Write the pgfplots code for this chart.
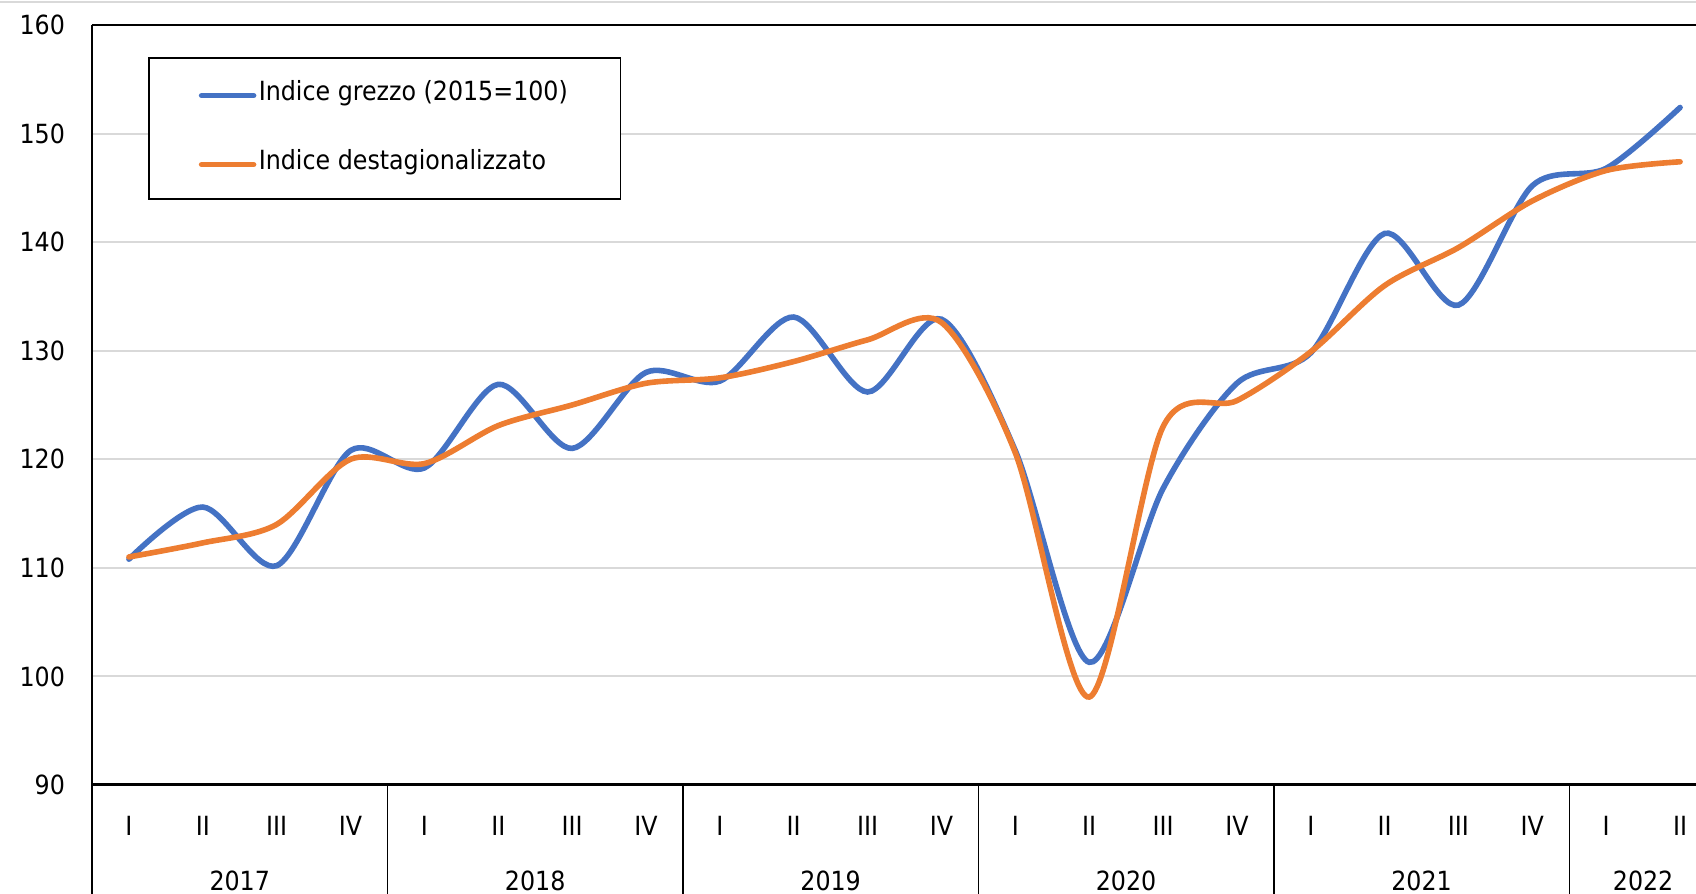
\documentclass[border=0pt]{standalone}
\usepackage{fontspec}
\setmainfont{DejaVu Sans Condensed}
\usepackage{pgfplots}
\pgfplotsset{compat=1.18}
\usetikzlibrary{calc}

\definecolor{grezzo}{HTML}{4472C4}
\definecolor{destag}{HTML}{ED7D31}
\definecolor{gridgray}{HTML}{D9D9D9}

\begin{document}
\begin{tikzpicture}
\begin{axis}[
  name=ax,
  scale only axis,
  width=812.5pt, height=380pt,
  xmin=-0.5, xmax=21.5,
  ymin=90, ymax=160,
  ytick={90,100,...,160},
  xtick={0,...,21},
  xticklabels={I,II,III,IV,I,II,III,IV,I,II,III,IV,I,II,III,IV,I,II,III,IV,I,II},
  major tick length=0pt,
  axis line style={draw=none},
  ymajorgrids,
  grid style={gridgray, line width=1pt},
  clip=false,
  font=\fontsize{13.2}{15.8}\selectfont,
  /pgf/number format/assume math mode=true,
  yticklabel style={anchor=east, xshift=-10pt},
  xticklabel style={anchor=center, yshift=-20.5pt},
  legend cell align=left,
  legend style={at={(0.0345,0.958)}, anchor=north west,
    draw=black, line width=0.8pt,
    inner xsep=25pt, inner ysep=10.5pt, row sep=19.5pt,
    nodes={inner sep=1.25pt, text height=9.5pt, text depth=3pt},
    font=\fontsize{13.2}{15.8}\selectfont},
  legend image code/.code={\draw[#1, line width=2.75pt, line cap=round] (0pt,-1pt) -- (26pt,-1pt);},
]
% indice grezzo
\addplot[grezzo, line width=2.8pt, line cap=round, smooth, tension=0.5] coordinates {
  (0,110.8)(1,115.6)(2,110.2)(3,120.8)
  (4,119.2)(5,126.9)(6,121.0)(7,128.0)
  (8,127.2)(9,133.1)(10,126.2)(11,132.9)
  (12,120.8)(13,101.3)(14,117.3)(15,127.0)
  (16,129.8)(17,140.8)(18,134.2)(19,145.2)
  (20,146.8)(21,152.4)
};
\addlegendentry{Indice grezzo (2015=100)}
% indice destagionalizzato
\addplot[destag, line width=2.8pt, line cap=round, smooth, tension=0.5] coordinates {
  (0,111.0)(1,112.3)(2,114.0)(3,120.0)
  (4,119.6)(5,123.1)(6,125.0)(7,127.0)
  (8,127.5)(9,129.0)(10,131.0)(11,132.6)
  (12,120.6)(13,98.1)(14,123.0)(15,125.4)
  (16,129.9)(17,136.0)(18,139.5)(19,143.8)
  (20,146.6)(21,147.4)
};
\addlegendentry{Indice destagionalizzato}

% frame and group separators
\draw[black, line width=1pt] (rel axis cs:0,1) -- (rel axis cs:1,1);
\draw[black, line width=1pt] (rel axis cs:0,1) -- ([yshift=-60pt]rel axis cs:0,0);
\draw[black, line width=1.5pt] (rel axis cs:0,0) -- (rel axis cs:1,0);
\pgfplotsinvokeforeach{3.5,7.5,11.5,15.5,19.5}{
  \draw[black, line width=0.75pt] (axis cs:#1,90) -- ([yshift=-60pt]axis cs:#1,90);
}
\node at ([yshift=-48pt]axis cs:1.5,90) {2017};
\node at ([yshift=-48pt]axis cs:5.5,90) {2018};
\node at ([yshift=-48pt]axis cs:9.5,90) {2019};
\node at ([yshift=-48pt]axis cs:13.5,90) {2020};
\node at ([yshift=-48pt]axis cs:17.5,90) {2021};
\node at ([yshift=-48pt]axis cs:20.5,90) {2022};
\end{axis}
\draw[gridgray, line width=1pt] ($(ax.north west)+(-46pt,11.5pt)$) -- ++(860pt,0pt);
\pgfresetboundingbox
\path ($(ax.south west)+(-46pt,-54.5pt)$) rectangle ($(ax.north west)+(802pt,12.5pt)$);
\end{tikzpicture}
\end{document}
